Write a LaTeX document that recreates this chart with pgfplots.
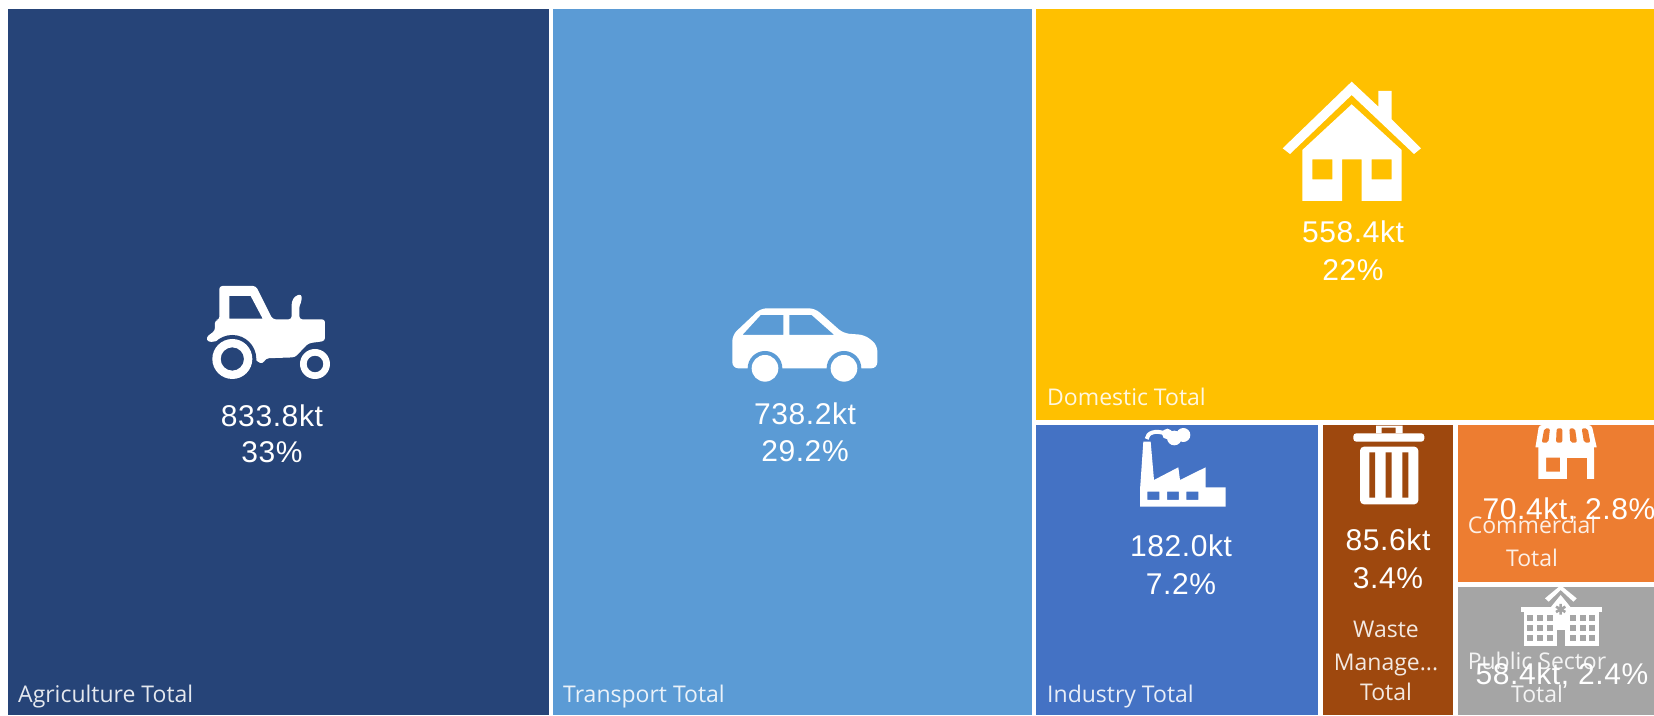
\documentclass[border=0pt]{standalone}
\usepackage{fontspec}
\setmainfont{Open Sans}
\newfontfamily\valfont[LetterSpace=2]{Liberation Sans}
\usepackage{pgfplots}
\pgfplotsset{compat=1.18}
\definecolor{agri}{HTML}{264478}
\definecolor{trans}{HTML}{5B9BD5}
\definecolor{dom}{HTML}{FFC000}
\definecolor{ind}{HTML}{4472C4}
\definecolor{waste}{HTML}{9E480E}
\definecolor{comm}{HTML}{ED7D31}
\definecolor{pub}{HTML}{A5A5A5}
\newcommand{\val}[3]{\node[anchor=base,text=white,font=\valfont\fontsize{30}{36}\selectfont,inner sep=0pt] at (#1,#2) {#3};}
\newcommand{\lab}[4][base]{\node[anchor=#1,text=white,text opacity=0.88,font=\fontsize{23}{28}\selectfont,inner sep=0pt] at (#2,#3) {#4};}
\tikzset{zoomed/.style 2 args={shift={(#1,#2)},x=0.3333pt,y=-0.3333pt}}
\begin{document}
\begin{tikzpicture}
\begin{axis}[
    scale only axis,
    width=1654pt,
    height=715pt,
    xmin=0, xmax=1654,
    ymin=0, ymax=715,
    y dir=reverse,
    hide axis,
]
% treemap tiles, in reference pixels
\addplot[fill=white, draw=none] coordinates {(0,0) (1654,0) (1654,715) (0,715)} -- cycle;
\addplot[fill=agri, draw=none] coordinates {(8,9) (549,9) (549,715) (8,715)} -- cycle;
\addplot[fill=trans, draw=none] coordinates {(553,9) (1032,9) (1032,715) (553,715)} -- cycle;
\addplot[fill=dom, draw=none] coordinates {(1036,9) (1654,9) (1654,420) (1036,420)} -- cycle;
\addplot[fill=ind, draw=none] coordinates {(1036,425) (1318,425) (1318,715) (1036,715)} -- cycle;
\addplot[fill=waste, draw=none] coordinates {(1323,425) (1453,425) (1453,715) (1323,715)} -- cycle;
\addplot[fill=comm, draw=none] coordinates {(1458,425) (1654,425) (1654,582) (1458,582)} -- cycle;
\addplot[fill=pub, draw=none] coordinates {(1458,587) (1654,587) (1654,715) (1458,715)} -- cycle;
\end{axis}

\begin{scope}[x=1pt,y=-1pt,yshift=715pt]
% tractor
\begin{scope}[zoomed={180}{260}]
\fill[white,even odd rule,rounded corners=3pt]
  (118,180) -- (118,78) -- (228,78) -- (278,178) -- (335,178) -- (335,125) -- (345,108) -- (365,102)
  -- (365,125) -- (358,135) -- (358,178) -- (435,178) -- (435,243) -- (385,250) -- (345,292)
  -- (258,295) -- (248,312) -- (232,305) -- (170,235) -- (85,247) -- (78,232) -- (105,212) -- (105,180) -- cycle
  [sharp corners] (148,108) -- (212,108) -- (248,176) -- (148,176) -- cycle;
\fill[agri] (157,297) circle[radius=72];
\fill[agri] (405,312) circle[radius=55];
\fill[white,even odd rule] (157,297) circle[radius=60] (157,297) circle[radius=35];
\fill[white,even odd rule] (405,312) circle[radius=45] (405,312) circle[radius=25];
\end{scope}
% car
\begin{scope}[zoomed={700}{280}]
\fill[white,even odd rule,rounded corners=6pt]
  (97,265) -- (97,165) -- (182,85) -- (345,85) -- (430,160) -- (495,165) -- (532,195) -- (532,265) -- cycle
  [sharp corners] (127,165) -- (182,105) -- (250,105) -- (250,165) -- cycle
  (268,105) -- (335,105) -- (403,165) -- (268,165) -- cycle;
\fill[trans] (195,265) circle[radius=52];
\fill[trans] (432,265) circle[radius=52];
\fill[white] (195,265) circle[radius=40];
\fill[white] (432,265) circle[radius=40];
\end{scope}
% house
\begin{scope}[zoomed={1260}{60}]
\fill[white] (68,265) -- (275,65) -- (355,140) -- (355,93) -- (395,93) -- (395,178) -- (483,265)
  -- (462,282) -- (275,105) -- (90,282) -- cycle;
\fill[white,even odd rule] (127,270) -- (275,133) -- (425,270) -- (425,423) -- (305,423) -- (305,298)
  -- (246,298) -- (246,423) -- (127,423) -- cycle
  (157,298) rectangle (217,358) (335,298) rectangle (395,358);
\end{scope}
% factory
\begin{scope}[zoomed={1030}{410}]
\fill[white,even odd rule] (330,290) -- (330,240) -- (340,95) -- (362,95) -- (372,210) -- (445,172) -- (450,210)
  -- (527,172) -- (527,232) -- (587,232) -- (587,290) -- cycle
  (352,245) rectangle (388,270) (411,245) rectangle (447,270) (469,245) rectangle (505,270);
\draw[white,line width=4pt] (350,87) .. controls (352,68) and (375,60) .. (405,70);
\fill[white] (412,72) circle[radius=16] (433,84) circle[radius=22] (460,75) circle[radius=21];
\end{scope}
% bin
\begin{scope}[zoomed={1330}{415}]
\fill[white,even odd rule] (138,32) rectangle (218,55) (155,38) rectangle (197,55);
\fill[white,rounded corners=3pt] (70,80) -- (70,55) -- (283,55) -- (283,80) -- cycle;
\fill[white,even odd rule,rounded corners=4pt] (90,95) -- (265,95) -- (265,268) -- (90,268) -- cycle;
\fill[waste] (118,112) rectangle (135,248) (167,112) rectangle (185,248) (217,112) rectangle (235,248);
\end{scope}
% shop
\begin{scope}[zoomed={1515}{420}]
\fill[white,rounded corners=3pt] (72,15) -- (230,15) -- (247,90) -- (60,90) -- cycle;
\fill[comm,rounded corners=2pt] (88,25) -- (105,25) -- (100,68) -- (80,68) -- cycle
  (125,25) -- (142,25) -- (142,68) -- (123,68) -- cycle
  (163,25) -- (180,25) -- (186,68) -- (166,68) -- cycle
  (200,25) -- (218,25) -- (226,68) -- (207,68) -- cycle;
\fill[comm] (60,82) rectangle (70,95) (237,82) rectangle (250,95);
\fill[white,even odd rule] (70,90) rectangle (237,177) (93,113) rectangle (135,155);
\fill[comm] (157,113) rectangle (217,177);
\end{scope}
% hospital
\begin{scope}[zoomed={1510}{580}]
\fill[white] (105,55) -- (152,16) -- (200,55) -- (190,65) -- (152,30) -- (116,65) -- cycle;
\fill[white] (122,82) -- (152,45) -- (182,82) -- cycle;
\fill[white] (33,82) rectangle (275,95);
\fill[white] (42,95) rectangle (267,197);
\foreach \wx in {52,82,110,180,210,238}
  \foreach \wy in {105,135,165}
    \fill[pub] (\wx,\wy) rectangle ++(18,17);
\fill[pub] (142,150) rectangle (166,197);
\draw[pub,line width=2.6pt] (152,72) -- (152,104) (138,80) -- (166,96) (138,96) -- (166,80);
\end{scope}
% values
\val{272}{427}{833.8kt}
\val{272}{463}{33\%}
\val{805}{425}{738.2kt}
\val{805}{462}{29.2\%}
\val{1353}{243}{558.4kt}
\val{1353}{281}{22\%}
\val{1181}{557}{182.0kt}
\val{1181}{594}{7.2\%}
\val{1388}{551}{85.6kt}
\val{1388}{588}{3.4\%}
% tile names
\lab[base west]{18}{702}{Agriculture Total}
\lab[base west]{563}{702}{Transport Total}
\lab[base west]{1047}{406}{Domestic Total}
\lab[base west]{1047}{702}{Industry Total}
\lab{1386}{637}{Waste}
\lab{1386}{670}{Manage...}
\lab{1386}{700}{Total}
\lab{1532}{534}{Commercial}
\lab{1532}{567}{Total}
\lab{1537}{669}{Public Sector}
\lab{1537}{702}{Total}
% the two small tiles set their values over the names
\val{1569}{520}{70.4kt, 2.8\%}
\val{1562}{684}{58.4kt, 2.4\%}
\end{scope}
\pgfresetboundingbox
\path (0,0) rectangle (1654pt,715pt);
\end{tikzpicture}
\end{document}
